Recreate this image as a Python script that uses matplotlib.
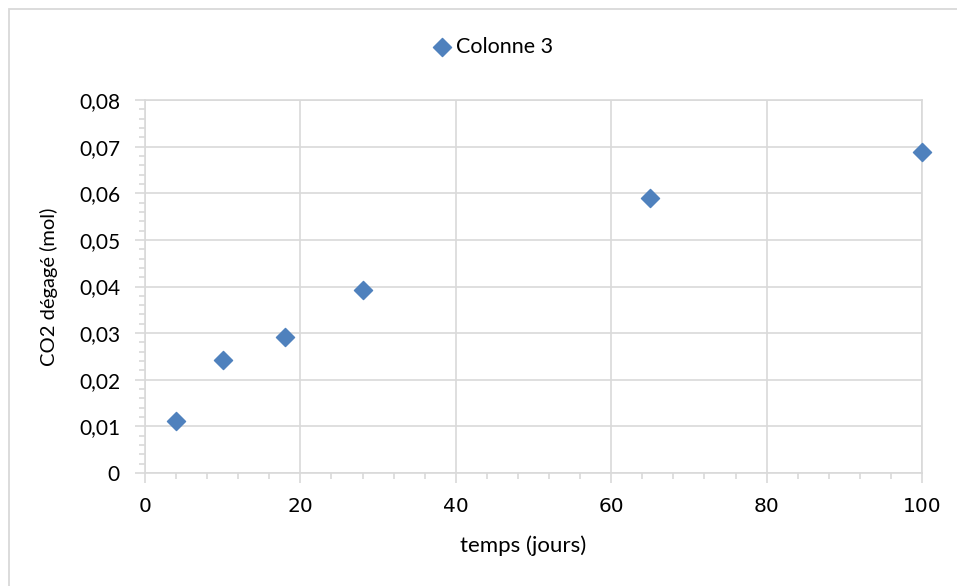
import matplotlib
matplotlib.use("Agg")
import matplotlib.pyplot as plt
from matplotlib.ticker import MultipleLocator, FuncFormatter
from matplotlib.patches import Rectangle

temps = [4, 10, 18, 28, 65, 100]
co2 = [0.0112, 0.0242, 0.0291, 0.0393, 0.0589, 0.0689]
series_name = "Colonne 3"

plt.rcParams['font.family'] = ['Lato', 'DejaVu Sans']
grid_c = '#d9d9d9'
mk_c = '#4f81bd'

fig = plt.figure(figsize=(9.57, 5.86), dpi=100)
ax = fig.add_axes([145/957, 1-473/586, (922-145)/957, (473-100)/586])

ax.scatter(temps, co2, marker='D', s=85, color=mk_c, edgecolors=mk_c, zorder=3,
           label=series_name, clip_on=False)

ax.set_xlim(0, 100)
ax.set_ylim(0, 0.08)
ax.xaxis.set_major_locator(MultipleLocator(20))
ax.xaxis.set_minor_locator(MultipleLocator(4))
ax.yaxis.set_major_locator(MultipleLocator(0.01))
ax.yaxis.set_minor_locator(MultipleLocator(0.002))

def yfmt(v, p):
    if abs(v) < 1e-9:
        return "0"
    return f"{v:.2f}".replace('.', ',')
ax.yaxis.set_major_formatter(FuncFormatter(yfmt))
ax.xaxis.set_major_formatter(FuncFormatter(lambda v, p: f"{int(round(v))}"))

ax.grid(True, which='major', color=grid_c, linewidth=1.2)
ax.set_axisbelow(True)
for s in ax.spines.values():
    s.set_color(grid_c)
    s.set_linewidth(1.2)

ax.tick_params(axis='both', which='major', direction='out', length=7, width=1.2,
               color=grid_c, labelsize=15, labelcolor='#000000')
ax.tick_params(axis='both', which='minor', direction='out', length=4, width=1.2,
               color=grid_c)
ax.tick_params(axis='y', which='major', pad=11)
ax.tick_params(axis='x', which='major', pad=10)
for lab in ax.get_xticklabels():
    lab.set_fontfamily(['DejaVu Sans'])
    lab.set_fontsize(14.5)

ax.set_xlabel("temps (jours)", fontsize=16)
ax.set_ylabel("CO2 dégagé (mol)", fontsize=14.5)
ax.xaxis.set_label_coords((523-145)/777, -(546-473)/373, transform=ax.transAxes)
ax.yaxis.set_label_coords(-(145-49)/777, 0.5, transform=ax.transAxes)
ax.xaxis.label.set_va('center')
ax.yaxis.label.set_va('center')

leg = fig.legend(handles=[ax.collections[0]], labels=[series_name], loc='center',
                 bbox_to_anchor=(492/957, 1-47/586), frameon=False, fontsize=15.5,
                 handletextpad=0.15, borderpad=0, handlelength=1.0)

fig.patches.append(Rectangle((9/957, -0.05), 1.2, 1.05 - 9.5/586,
                             transform=fig.transFigure, fill=False,
                             edgecolor=grid_c, linewidth=1.3))

fig.savefig("out.png", dpi=100)
